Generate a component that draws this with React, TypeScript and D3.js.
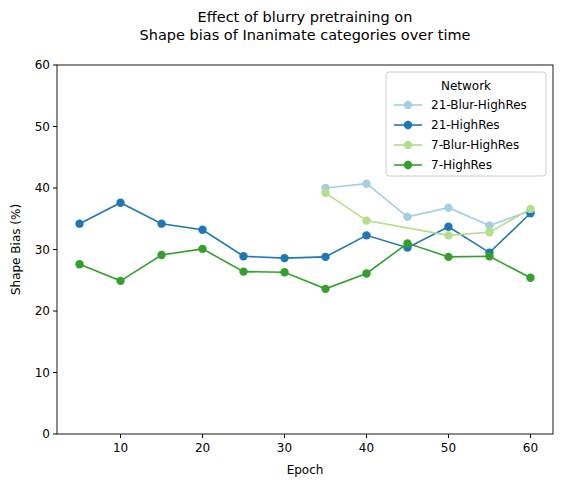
import * as d3 from 'd3';

const epochs = [5, 10, 15, 20, 25, 30, 35, 40, 45, 50, 55, 60];
const blurEpochs21 = [35, 40, 45, 50, 55, 60];
const blurEpochs7 = [35, 40, 50, 55, 60];
const highRes21 = [34.2, 37.6, 34.2, 33.2, 28.9, 28.6, 28.8, 32.3, 30.3, 33.7, 29.5, 35.9];
const highRes7 = [27.6, 24.9, 29.1, 30.1, 26.4, 26.3, 23.6, 26.1, 31.0, 28.8, 28.9, 25.4];
const blur21 = [40.0, 40.7, 35.3, 36.8, 33.9, 36.3];
const blur7 = [39.2, 34.7, 32.3, 32.8, 36.6];
const xTicks = [10, 20, 30, 40, 50, 60];
const yTicks = [0, 10, 20, 30, 40, 50, 60];

const series = [
  { name: '21-Blur-HighRes', color: '#a6cee3', xs: blurEpochs21, ys: blur21 },
  { name: '21-HighRes', color: '#1f78b4', xs: epochs, ys: highRes21 },
  { name: '7-Blur-HighRes', color: '#b2df8a', xs: blurEpochs7, ys: blur7 },
  { name: '7-HighRes', color: '#33a02c', xs: epochs, ys: highRes7 },
];

export default function App() {
  const W = 563, H = 488;
  const m = { left: 57, right: 553, top: 65, bottom: 434 };
  const x = d3.scaleLinear().domain([2.25, 62.75]).range([m.left, m.right]);
  const y = d3.scaleLinear().domain([0, 60]).range([m.bottom, m.top]);
  const line = d3.line<[number, number]>().x((d) => x(d[0])).y((d) => y(d[1]));
  const font = 'DejaVu Sans, sans-serif';
  const lx = 386, ly = 72;
  return (
    <svg width={W} height={H} style={{ position: 'absolute', left: 0, top: 0, fontFamily: font }}>
      <rect width={W} height={H} fill="#fff" />
      <text x={305} y={22} textAnchor="middle" fontSize={14.5}>Effect of blurry pretraining on</text>
      <text x={305} y={40} textAnchor="middle" fontSize={14.5}>Shape bias of Inanimate categories over time</text>
      {series.map((s) => (
        <g key={s.name}>
          <path d={line(s.xs.map((e, i) => [e, s.ys[i]]) as [number, number][]) || ''} fill="none" stroke={s.color} strokeWidth={1.6} />
          {s.xs.map((e, i) => (
            <circle key={i} cx={x(e)} cy={y(s.ys[i])} r={4.2} fill={s.color} />
          ))}
        </g>
      ))}
      <rect x={m.left} y={m.top} width={m.right - m.left} height={m.bottom - m.top} fill="none" stroke="#000" strokeWidth={0.9} />
      {xTicks.map((t) => (
        <g key={t}>
          <line x1={x(t)} x2={x(t)} y1={m.bottom} y2={m.bottom + 4} stroke="#000" />
          <text x={x(t)} y={m.bottom + 18} textAnchor="middle" fontSize={12}>{t}</text>
        </g>
      ))}
      {yTicks.map((t) => (
        <g key={t}>
          <line x1={m.left - 4} x2={m.left} y1={y(t)} y2={y(t)} stroke="#000" />
          <text x={m.left - 7} y={y(t) + 4} textAnchor="end" fontSize={12}>{t}</text>
        </g>
      ))}
      <text x={(m.left + m.right) / 2} y={474} textAnchor="middle" fontSize={12}>Epoch</text>
      <text transform={`translate(20,${(m.top + m.bottom) / 2}) rotate(-90)`} textAnchor="middle" fontSize={12}>Shape Bias (%)</text>
      <rect x={lx} y={ly} width={160} height={104} rx={3} fill="#fff" fillOpacity={0.8} stroke="#ccc" />
      <text x={lx + 80} y={ly + 18} textAnchor="middle" fontSize={12}>Network</text>
      {series.map((s, i) => (
        <g key={s.name} transform={`translate(${lx + 8},${ly + 33 + i * 20})`}>
          <line x1={0} x2={28} y1={0} y2={0} stroke={s.color} strokeWidth={1.6} />
          <circle cx={14} cy={0} r={4.2} fill={s.color} />
          <text x={37} y={4} fontSize={12}>{s.name}</text>
        </g>
      ))}
    </svg>
  );
}
